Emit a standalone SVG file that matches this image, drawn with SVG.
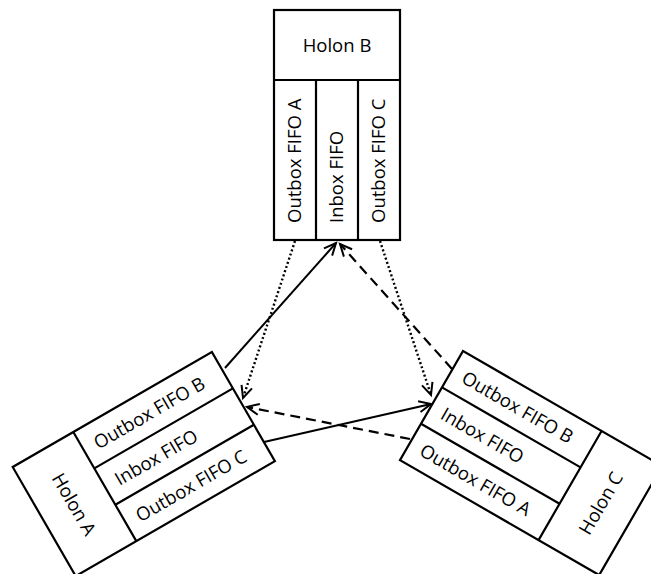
<svg xmlns="http://www.w3.org/2000/svg" width="651" height="574" viewBox="0 0 651 574">
  <style>
    .box { fill: #ffffff; stroke: #000000; stroke-width: 2.2; }
    .div { fill: none; stroke: #000000; stroke-width: 2.2; }
    .t { font-family: "Open Sans", "Liberation Sans", Arial, sans-serif; font-size: 18.5px; fill: #000000; }
    .m { text-anchor: middle; }
    .con { fill: none; stroke: #000000; stroke-width: 2; }
    .dotted { stroke-width: 2.4; stroke-dasharray: 2 2.4; }
    .dashed { stroke-width: 2.2; stroke-dasharray: 10 6; }
  </style>
  <defs>
    <marker id="arr" markerUnits="userSpaceOnUse" markerWidth="16" markerHeight="16" refX="13" refY="7" orient="auto">
      <path d="M1,1.5 L13,7 L1,12.5" fill="none" stroke="#000000" stroke-width="2" stroke-dasharray="none"/>
    </marker>
  </defs>
  <rect width="651" height="574" fill="#ffffff"/>

  <g id="holonB">
    <rect class="box" x="274" y="10" width="126" height="230"/>
    <path class="div" d="M274,80 H400 M316,80 V240 M358,80 V240"/>
    <text class="t m" x="337" y="52">Holon B</text>
    <text class="t" transform="translate(301,223) rotate(-90)">Outbox FIFO A</text>
    <text class="t" transform="translate(343,223) rotate(-90)">Inbox FIFO</text>
    <text class="t" transform="translate(385,223) rotate(-90)">Outbox FIFO C</text>
  </g>

  <g id="holonA" transform="translate(12.7,467) rotate(-30)">
    <rect class="box" x="0" y="0" width="230" height="126"/>
    <path class="div" d="M70,0 V126 M70,42 H230 M70,84 H230"/>
    <text class="t m" transform="translate(28,63) rotate(90)">Holon A</text>
    <text class="t" x="83" y="28">Outbox FIFO B</text>
    <text class="t" x="83" y="70">Inbox FIFO</text>
    <text class="t" x="83" y="112">Outbox FIFO C</text>
  </g>

  <g id="holonC" transform="translate(463,351) rotate(30)">
    <rect class="box" x="0" y="0" width="230" height="126"/>
    <path class="div" d="M160,0 V126 M0,42 H160 M0,84 H160"/>
    <text class="t m" transform="translate(202,63) rotate(-90)">Holon C</text>
    <text class="t" x="13" y="28">Outbox FIFO B</text>
    <text class="t" x="13" y="70">Inbox FIFO</text>
    <text class="t" x="13" y="112">Outbox FIFO A</text>
  </g>

  <g id="connectors">
    <path class="con" d="M225,368 L336,243" marker-end="url(#arr)"/>
    <path class="con dotted" d="M295,241 L243,398" marker-end="url(#arr)"/>
    <path class="con dashed" d="M410,439 L247,407" marker-end="url(#arr)"/>
    <path class="con" d="M264,442 L431,404" marker-end="url(#arr)"/>
    <path class="con dotted" d="M380,241 L431,395" marker-end="url(#arr)"/>
    <path class="con dashed" d="M452,369 L340,244" marker-end="url(#arr)"/>
  </g>
</svg>
